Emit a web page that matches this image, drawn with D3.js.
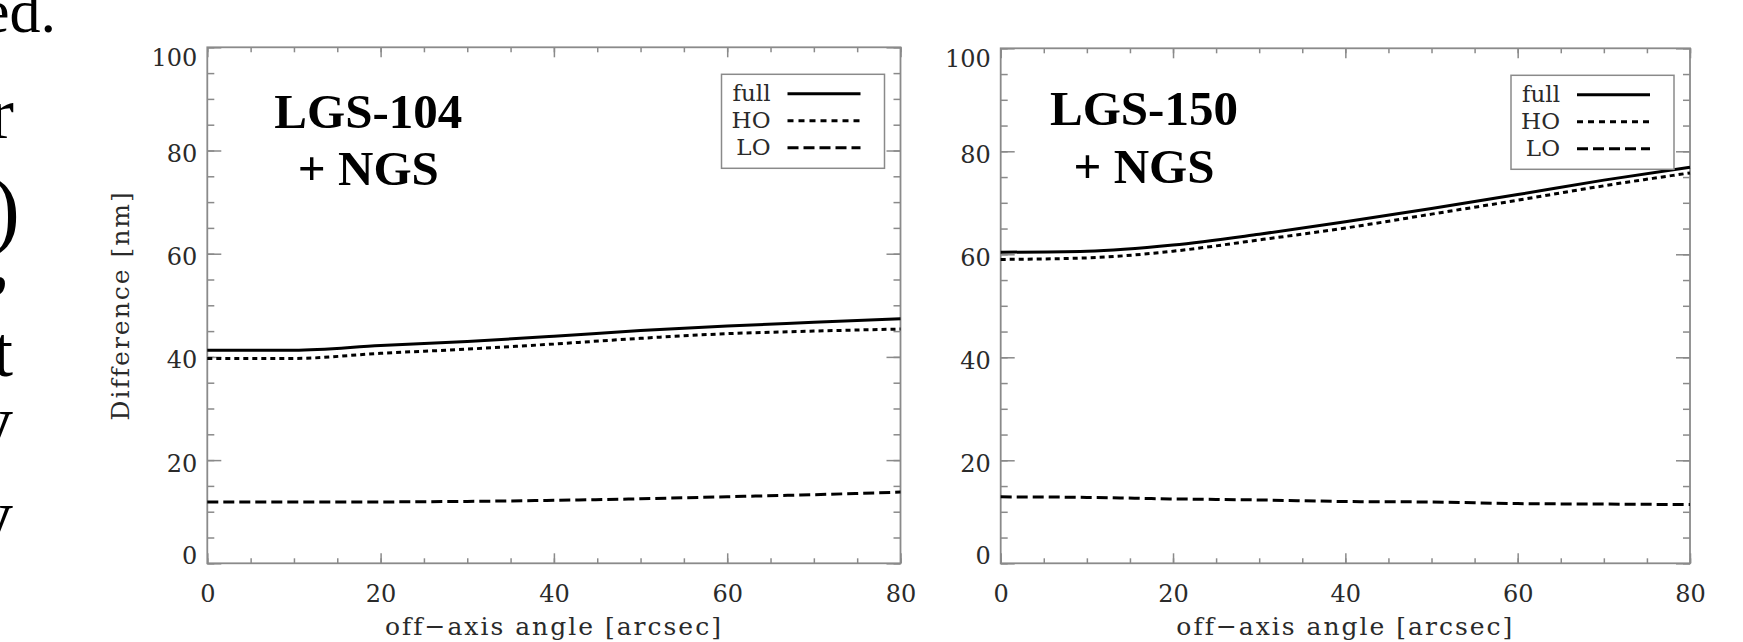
<!DOCTYPE html>
<html>
<head>
<meta charset="utf-8">
<script src="https://cdn.jsdelivr.net/npm/d3@7"></script>
<style>
  body { margin: 0; background: #fff; }
  svg { display: block; }
</style>
</head>
<body>
<svg width="1743" height="642"></svg>
<script>
// off-axis angle samples [arcsec]
const angles = [0, 10, 20, 30, 40, 50, 60, 70, 80];

// LGS-104 + NGS
const full104 = [41.3, 41.3, 42.2, 43.0, 44.0, 45.1, 46.0, 46.7, 47.4];
const ho104   = [39.7, 39.7, 40.7, 41.5, 42.5, 43.6, 44.5, 45.0, 45.4];
const lo104   = [11.9, 11.9, 11.9, 12.0, 12.2, 12.5, 12.9, 13.3, 13.8];

// LGS-150 + NGS
const full150 = [60.4, 60.6, 61.8, 63.9, 66.3, 68.9, 71.6, 74.4, 76.9];
const ho150   = [59.0, 59.3, 60.6, 62.8, 65.1, 67.8, 70.5, 73.3, 75.8];
const lo150   = [12.9, 12.8, 12.5, 12.3, 12.0, 11.9, 11.6, 11.5, 11.4];

const seriesNames = ['full', 'HO', 'LO'];
const xTicks = [0, 20, 40, 60, 80];
const yTicks = [0, 20, 40, 60, 80, 100];
const xTitle = 'off\u2212axis angle [arcsec]';
const yTitle = 'Difference [nm]';

// cut-off slide text at the left edge
const slideText = ['ed.', 'r', ')', ',', 't', 'y', 'y'];

// ---- layout / style ----
const svg = d3.select('svg');
const axisColor = '#8a8a8a';
const labelColor = '#2a2a2a';
const serif = '"DejaVu Serif", serif';
const dashes = { full: null, HO: '5,4', LO: '11,5' };

const panels = [
  { name: ['LGS-104', '+ NGS'], series: [full104, ho104, lo104],
    left: 207.3, right: 900.5, top: 47.3, bottom: 563.3,
    nameX: 161, nameY: [81, 137.7], yTitle: true },
  { name: ['LGS-150', '+ NGS'], series: [full150, ho150, lo150],
    left: 1000.7, right: 1690, top: 48.3, bottom: 563.3,
    nameX: 143.3, nameY: [76.7, 134.4], yTitle: false }
];

// slide fragments: [right edge x, baseline y, font size]
const slidePos = [[56, 32, 62], [14, 138, 74], [20, 238, 86], [10, 285, 80],
                  [13, 376, 72], [13, 446, 74], [13, 540, 74]];
svg.append('text')
  .attr('text-anchor', 'end')
  .style('font-family', '"Liberation Serif", serif')
  .style('fill', '#000')
  .selectAll('tspan')
  .data(slideText)
  .enter().append('tspan')
  .attr('x', (d, i) => slidePos[i][0])
  .attr('y', (d, i) => slidePos[i][1])
  .style('font-size', (d, i) => slidePos[i][2] + 'px')
  .text(d => d);

panels.forEach(function (p) {
  const x = d3.scaleLinear().domain([0, 80]).range([p.left, p.right]);
  const y = d3.scaleLinear().domain([0, 100]).range([p.bottom, p.top]);
  const w = p.right - p.left, h = p.bottom - p.top;
  const g = svg.append('g');

  // minor ticks every 5
  const minor = d3.range(0, 101, 5);
  const styleAxis = sel => {
    sel.select('.domain').remove();
    sel.selectAll('line').attr('stroke', axisColor).attr('stroke-width', 1.5);
  };

  g.append('g').attr('transform', `translate(0,${p.bottom})`)
    .call(d3.axisBottom(x).tickValues(minor.filter(v => v <= 80)).tickSize(-5).tickFormat(''))
    .call(styleAxis);
  g.append('g').attr('transform', `translate(0,${p.top})`)
    .call(d3.axisTop(x).tickValues(minor.filter(v => v <= 80)).tickSize(-5).tickFormat(''))
    .call(styleAxis);
  g.append('g').attr('transform', `translate(0,${p.top})`)
    .call(d3.axisTop(x).tickValues(xTicks).tickSize(-10).tickFormat(''))
    .call(styleAxis);
  g.append('g').attr('transform', `translate(${p.left},0)`)
    .call(d3.axisLeft(y).tickValues(minor).tickSize(-7).tickFormat(''))
    .call(styleAxis);
  g.append('g').attr('transform', `translate(${p.right},0)`)
    .call(d3.axisRight(y).tickValues(minor).tickSize(-7).tickFormat(''))
    .call(styleAxis);
  g.append('g').attr('transform', `translate(${p.right},0)`)
    .call(d3.axisRight(y).tickValues(yTicks).tickSize(-14).tickFormat(''))
    .call(styleAxis);

  // major ticks with labels
  const xAx = g.append('g').attr('transform', `translate(0,${p.bottom})`)
    .call(d3.axisBottom(x).tickValues(xTicks).tickSize(-10).tickPadding(22).tickFormat(d3.format('d')))
    .call(styleAxis);
  xAx.selectAll('text')
    .style('font-family', serif).style('font-size', '24px').style('fill', labelColor);

  const yAx = g.append('g').attr('transform', `translate(${p.left},0)`)
    .call(d3.axisLeft(y).tickValues(yTicks).tickSize(-14).tickPadding(10).tickFormat(d3.format('d')))
    .call(styleAxis);
  yAx.selectAll('text')
    .attr('dy', d => d === 0 ? '0em' : (d === 100 ? '0.74em' : '0.46em'))
    .style('font-family', serif).style('font-size', '24px').style('fill', labelColor);

  // frame
  g.append('rect')
    .attr('x', p.left).attr('y', p.top).attr('width', w).attr('height', h)
    .attr('fill', 'none').attr('stroke', axisColor).attr('stroke-width', 1.8);

  // axis titles
  g.append('text')
    .attr('x', (p.left + p.right) / 2).attr('y', 635)
    .attr('text-anchor', 'middle')
    .style('font-family', serif).style('font-size', '25px')
    .style('letter-spacing', '2px').style('fill', labelColor)
    .text(xTitle);
  if (p.yTitle) {
    g.append('text')
      .attr('transform', `translate(129,${(p.top + p.bottom) / 2}) rotate(-90)`)
      .attr('text-anchor', 'middle')
      .style('font-family', serif).style('font-size', '25px')
      .style('letter-spacing', '2px').style('fill', labelColor)
      .text(yTitle);
  }

  // curves
  const line = d3.line()
    .x((d, i) => x(angles[i]))
    .y(d => y(d))
    .curve(d3.curveMonotoneX);
  p.series.forEach(function (vals, k) {
    g.append('path')
      .datum(vals)
      .attr('d', line)
      .attr('fill', 'none')
      .attr('stroke', '#000')
      .attr('stroke-width', 3)
      .attr('stroke-dasharray', dashes[seriesNames[k]]);
  });

  // legend
  const lx = p.right - 16 - 163, ly = p.top + 27;
  const lg = g.append('g').attr('transform', `translate(${lx},${ly})`);
  lg.append('rect').attr('width', 163).attr('height', 94)
    .attr('fill', '#fff').attr('stroke', axisColor).attr('stroke-width', 1.5);
  seriesNames.forEach(function (s, k) {
    const ry = 19.5 + k * 27;
    lg.append('line').attr('x1', 66).attr('x2', 139).attr('y1', ry).attr('y2', ry)
      .attr('stroke', '#000').attr('stroke-width', 3)
      .attr('stroke-dasharray', s === 'HO' ? '6,5' : dashes[s]);
    lg.append('text').attr('x', 49).attr('y', ry + 7.5)
      .attr('text-anchor', 'end')
      .style('font-family', serif).style('font-size', '23px').style('fill', labelColor)
      .text(s);
  });

  // panel name
  p.name.forEach(function (t, k) {
    g.append('text')
      .attr('x', p.left + p.nameX).attr('y', p.top + p.nameY[k])
      .attr('text-anchor', 'middle')
      .style('font-family', '"Liberation Serif", serif')
      .style('font-weight', 'bold').style('font-size', '49px').style('fill', '#000')
      .text(t);
  });
});
</script>
</body>
</html>
